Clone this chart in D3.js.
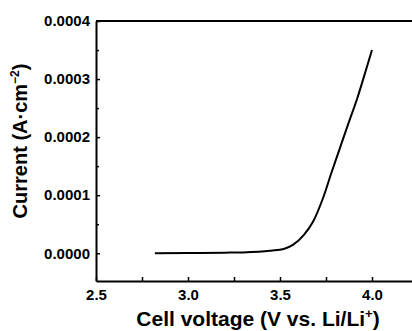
<!DOCTYPE html>
<html>
<head>
<meta charset="utf-8">
<script src="https://cdn.jsdelivr.net/npm/d3@7"></script>
<style>
  html, body { margin: 0; padding: 0; background: #fff; }
  svg { display: block; }
  text { font-family: "Liberation Sans", Arial, sans-serif; font-weight: bold; fill: #000; }
</style>
</head>
<body>
<svg id="chart" width="412" height="331"></svg>
<script>
// Data
const voltage = [2.82, 3.0, 3.2, 3.3, 3.4, 3.45, 3.52, 3.57, 3.63, 3.68, 3.735, 3.78, 3.82, 3.87, 3.92, 3.96, 4.0];
const current = [0, 0.0000003, 0.000001, 0.0000015, 0.0000028, 0.0000045, 0.0000074, 0.0000143, 0.0000316, 0.0000546, 0.000096, 0.000139, 0.000176, 0.000222, 0.000267, 0.000308, 0.000350];
const xTicks = [2.5, 3.0, 3.5, 4.0];
const xMinorTicks = [2.75, 3.25, 3.75, 4.25];
const yTicks = [0, 0.0001, 0.0002, 0.0003, 0.0004];
const yMinorTicks = [0.00005, 0.00015, 0.00025, 0.00035];

const svg = d3.select("#chart");
const mLeft = 96, mTop = 21, mBottom = 281, mRight = 418;

const x = d3.scaleLinear().domain([2.5, 4.25]).range([mLeft, mRight]);
const y = d3.scaleLinear().domain([-0.0000478, 0.0004]).range([mBottom, mTop]);

// Frame lines
svg.append("line").attr("x1", mLeft).attr("x2", mRight).attr("y1", mTop).attr("y2", mTop)
  .attr("stroke", "#000").attr("stroke-width", 2);

// Y axis
const yAxis = svg.append("g").attr("transform", `translate(${mLeft},0)`)
  .call(d3.axisLeft(y).tickValues(yTicks).tickFormat(d3.format(".4f")).tickSizeInner(-4).tickSizeOuter(0).tickPadding(6));
yAxis.select(".domain").attr("stroke-width", 2);
yAxis.selectAll(".tick line").attr("stroke-width", 1.5);
yAxis.selectAll(".tick text").attr("font-size", 15).attr("font-family", "Liberation Sans, Arial, sans-serif").attr("font-weight", "bold");
svg.append("g").attr("transform", `translate(${mLeft},0)`)
  .call(d3.axisLeft(y).tickValues(yMinorTicks).tickFormat("").tickSizeInner(-3).tickSizeOuter(0))
  .call(g => g.select(".domain").remove())
  .selectAll(".tick line").attr("stroke-width", 1.5);

// X axis
const xAxis = svg.append("g").attr("transform", `translate(0,${mBottom})`)
  .call(d3.axisBottom(x).tickValues(xTicks).tickFormat(d3.format(".1f")).tickSizeInner(-4).tickSizeOuter(0).tickPadding(8));
xAxis.select(".domain").attr("stroke-width", 2);
xAxis.selectAll(".tick line").attr("stroke-width", 1.5);
xAxis.selectAll(".tick text").attr("font-size", 15).attr("font-family", "Liberation Sans, Arial, sans-serif").attr("font-weight", "bold");
svg.append("g").attr("transform", `translate(0,${mBottom})`)
  .call(d3.axisBottom(x).tickValues(xMinorTicks).tickFormat("").tickSizeInner(-4).tickSizeOuter(0))
  .call(g => g.select(".domain").remove())
  .selectAll(".tick line").attr("stroke-width", 1.5);

// Curve
const pts = voltage.map((v, i) => [v, current[i]]);
svg.append("path").datum(pts)
  .attr("fill", "none").attr("stroke", "#000").attr("stroke-width", 2)
  .attr("d", d3.line().x(d => x(d[0])).y(d => y(d[1])).curve(d3.curveMonotoneX));

// Axis titles
const xt = svg.append("text").attr("x", 258).attr("y", 326).attr("text-anchor", "middle").attr("font-size", 21);
xt.append("tspan").text("Cell voltage (V vs. Li/Li");
xt.append("tspan").attr("font-size", 13).attr("dy", -8).text("+");
xt.append("tspan").attr("dy", 8).text(")");

const yt = svg.append("text").attr("transform", "translate(27,141) rotate(-90)").attr("text-anchor", "middle").attr("font-size", 20);
yt.append("tspan").text("Current (A·cm");
yt.append("tspan").attr("font-size", 12).attr("dy", -8).text("−2");
yt.append("tspan").attr("dy", 8).text(")");
</script>
</body>
</html>
